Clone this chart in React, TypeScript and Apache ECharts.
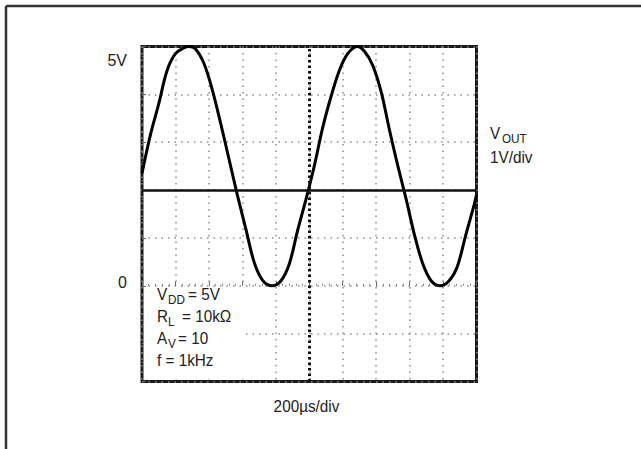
import React, { useEffect, useRef } from "react";
import * as echarts from "echarts";

// Time (µs) and output voltage (V)
const timeUs = [0, 50, 100, 150, 200, 250, 281, 320, 370, 420, 470, 520, 570, 620, 670, 720, 777, 830, 880, 930, 980, 1030, 1080, 1130, 1180, 1230, 1286, 1330, 1380, 1430, 1480, 1530, 1580, 1630, 1680, 1730, 1782, 1835, 1885, 1935, 1985, 2000];
const vout = [2.35, 3.15, 3.8, 4.5, 4.85, 4.97, 5.0, 4.95, 4.65, 4.1, 3.4, 2.65, 1.9, 1.2, 0.5, 0.12, 0.0, 0.1, 0.45, 1.15, 1.8, 2.5, 3.3, 3.95, 4.5, 4.85, 5.0, 4.9, 4.6, 4.05, 3.25, 2.5, 1.8, 1.05, 0.45, 0.1, 0.0, 0.1, 0.4, 1.05, 1.68, 1.9];

const yLabelValues = [5, 0];
const yLabelTexts = ["5V", "0"];
const centerTimeUs = 1000;
const centerVolt = 2;

const FONT = '"Liberation Sans", Arial, Helvetica, sans-serif';

export default function App() {
  const ref = useRef<HTMLDivElement>(null);
  useEffect(() => {
    if (!ref.current) return;
    const chart = echarts.init(ref.current, undefined, { renderer: "svg" });
    const data = timeUs.map((t, i) => [t, vout[i]]);
    const gridLine = { color: "#8a8a8a", width: 1.5, type: [1.5, 5] as any };
    const txt = (text: string, x: number, y: number, size = 17, align = "left") => ({
      type: "text",
      x,
      y,
      z: 10,
      scaleX: 0.9,
      style: { text, fill: "#222", font: `${size}px ${FONT}`, textAlign: align, textVerticalAlign: "middle" },
    });
    chart.setOption({
      animation: false,
      backgroundColor: "#ffffff",
      grid: { left: 142, top: 46.5, width: 334.5, height: 335, show: true, borderColor: "#1a1a1a", borderWidth: 3, backgroundColor: "transparent" },
      xAxis: {
        type: "value", min: 0, max: 2000, interval: 200,
        axisLine: { show: false }, axisLabel: { show: false },
        axisTick: { show: true, inside: true, length: 4, lineStyle: { color: "#666" } },
        minorTick: { show: true, splitNumber: 5, length: 2, lineStyle: { color: "#888" } },
        splitLine: { show: true, lineStyle: gridLine },
      },
      yAxis: {
        type: "value", min: -2, max: 5, interval: 1,
        axisLine: { show: false },
        axisTick: { show: true, inside: true, length: 4, lineStyle: { color: "#666" } },
        minorTick: { show: true, splitNumber: 5, length: 2, lineStyle: { color: "#888" } },
        splitLine: { show: true, lineStyle: gridLine },
        axisLabel: {
          show: true, margin: 15, color: "#222", fontFamily: FONT, fontSize: 16,
          formatter: (v: number) => {
            const i = yLabelValues.indexOf(v);
            if (i < 0) return "";
            return v === yLabelValues[0] ? `{a|${yLabelTexts[i]}}` : `{b|${yLabelTexts[i]}}`;
          },
          rich: {
            a: { fontFamily: FONT, fontSize: 16, color: "#222", padding: [27, 0, 0, 0] },
            b: { fontFamily: FONT, fontSize: 16, color: "#222", padding: [0, 0, 6, 0] },
          },
        },
      },
      series: [
        {
          type: "line", data, smooth: 0.35, showSymbol: false, z: 3,
          lineStyle: { color: "#000", width: 3 },
          markLine: {
            silent: true, symbol: ["none", "none"], label: { show: false },
            data: [
              { xAxis: centerTimeUs, lineStyle: { color: "#111", width: 3, type: [2.5, 3] } },
              { yAxis: centerVolt, lineStyle: { color: "#111", width: 2.5, type: "solid" } },
            ],
          },
        },
      ],
      graphic: [
        { type: "line", shape: { x1: 6, y1: 6, x2: 641, y2: 6 }, style: { stroke: "#333", lineWidth: 2.5 } },
        { type: "line", shape: { x1: 6, y1: 6, x2: 6, y2: 449 }, style: { stroke: "#333", lineWidth: 2.5 } },
        { type: "rect", z: 1, shape: { x: 144, y: 287, width: 102, height: 92 }, style: { fill: "#fff" } },
        txt("V", 157, 294), txt("DD", 168, 300, 13), txt("= 5V", 188, 294),
        txt("R", 157, 316), txt("L", 168, 322, 13), txt("= 10kΩ", 182, 316),
        txt("A", 157, 338), txt("V", 168, 344, 13), txt("= 10", 178, 338),
        txt("f = 1kHz", 157, 360),
        txt("V", 490, 133), txt("OUT", 502, 139, 13), txt("1V/div", 490, 157),
        txt("200µs/div", 306.5, 406, 17, "center"),
      ],
    });
    return () => chart.dispose();
  }, []);
  return <div ref={ref} style={{ position: "absolute", left: 0, top: 0, width: 641, height: 449 }} />;
}
